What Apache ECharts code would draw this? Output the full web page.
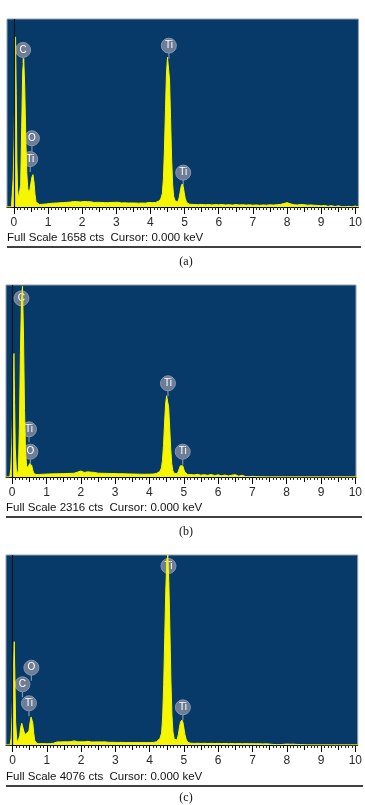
<!DOCTYPE html>
<html>
<head>
<meta charset="utf-8">
<script src="https://cdn.jsdelivr.net/npm/echarts@6/dist/echarts.min.js"></script>
<style>
html,body{margin:0;padding:0;background:#fff;overflow:hidden;}
#chart{width:365px;height:805px;}
</style>
</head>
<body>
<div id="chart"></div>
<script>
// ---- data (energy keV, counts) ----
const energyTicks = [0,1,2,3,4,5,6,7,8,9,10];
const panelNames = ['(a)','(b)','(c)'];
const fullScales = [1658, 2316, 4076];
const cursorKeV = 0.000;

const specA = [
[-0.2,0],[-0.07,0],[-0.05,100],[-0.02,250],[0.01,600],[0.03,1100],[0.05,1500],[0.07,1000],[0.09,400],[0.11,150],[0.14,70],[0.17,55],[0.20,200],[0.23,700],[0.26,1200],[0.29,1310],[0.32,1050],[0.35,600],[0.38,300],[0.41,160],[0.44,130],[0.47,150],[0.50,210],[0.53,265],[0.56,285],[0.59,220],[0.62,110],[0.65,45],[0.70,28],[0.75,22],[0.80,26],[0.85,24],[0.90,30],[0.95,27],[1.00,33],[1.05,31],[1.10,36],[1.15,34],[1.20,38],[1.25,35],[1.30,40],[1.35,37],[1.40,42],[1.45,39],[1.50,44],[1.55,41],[1.60,46],[1.65,43],[1.70,52],[1.75,48],[1.80,58],[1.85,47],[1.90,52],[1.95,45],[2.00,55],[2.05,48],[2.10,44],[2.15,47],[2.20,42],[2.25,46],[2.30,43],[2.35,40],[2.40,45],[2.45,41],[2.50,44],[2.55,40],[2.60,43],[2.65,39],[2.70,42],[2.75,38],[2.80,44],[2.85,40],[2.90,37],[2.95,41],[3.00,38],[3.05,42],[3.10,39],[3.15,36],[3.20,40],[3.25,37],[3.30,39],[3.35,35],[3.40,38],[3.45,36],[3.50,39],[3.55,35],[3.60,37],[3.65,34],[3.70,38],[3.75,35],[3.80,37],[3.85,34],[3.90,36],[3.95,40],[4.00,35],[4.05,38],[4.10,36],[4.15,40],[4.20,44],[4.25,52],[4.30,70],[4.35,120],[4.38,250],[4.41,500],[4.44,850],[4.47,1180],[4.50,1320],[4.53,1330],[4.56,1120],[4.59,780],[4.62,430],[4.65,200],[4.68,95],[4.72,55],[4.76,40],[4.80,45],[4.84,80],[4.87,130],[4.90,180],[4.93,203],[4.96,180],[4.99,125],[5.02,75],[5.06,40],[5.10,28],[5.15,24],[5.20,26],[5.30,22],[5.40,20],[5.50,23],[5.60,19],[5.70,22],[5.80,18],[5.90,21],[6.00,19],[6.10,22],[6.20,18],[6.30,20],[6.40,17],[6.50,21],[6.60,18],[6.70,20],[6.80,17],[6.90,19],[7.00,16],[7.10,18],[7.20,15],[7.30,18],[7.40,16],[7.50,19],[7.60,17],[7.70,20],[7.80,22],[7.90,30],[8.00,38],[8.05,36],[8.10,28],[8.20,20],[8.30,18],[8.40,22],[8.50,20],[8.60,16],[8.70,18],[8.80,15],[8.90,14],[9.00,10],[9.10,14],[9.20,6],[9.30,12],[9.40,4],[9.50,10],[9.60,3],[9.70,2],[9.80,6],[9.90,2],[10.00,8],[10.1,0]
];

const specB = [
[-0.2,0],[-0.07,0],[-0.04,100],[-0.01,400],[0.02,900],[0.05,1490],[0.07,900],[0.09,350],[0.12,100],[0.15,30],[0.18,80],[0.21,600],[0.24,1500],[0.27,2100],[0.30,2300],[0.33,1700],[0.36,800],[0.39,300],[0.42,140],[0.45,110],[0.48,130],[0.51,160],[0.54,170],[0.57,140],[0.60,80],[0.64,40],[0.70,30],[0.75,34],[0.80,31],[0.85,36],[0.90,33],[0.95,38],[1.00,35],[1.05,40],[1.10,37],[1.15,41],[1.20,38],[1.25,42],[1.30,39],[1.35,43],[1.40,40],[1.45,44],[1.50,41],[1.55,45],[1.60,42],[1.65,46],[1.70,44],[1.75,48],[1.80,45],[1.85,52],[1.90,58],[1.95,66],[2.00,72],[2.05,64],[2.10,55],[2.15,50],[2.20,62],[2.25,48],[2.30,58],[2.35,46],[2.40,55],[2.45,44],[2.50,46],[2.55,43],[2.60,45],[2.65,42],[2.70,44],[2.75,41],[2.80,43],[2.85,40],[2.90,42],[2.95,39],[3.00,41],[3.05,38],[3.10,40],[3.15,37],[3.20,39],[3.25,36],[3.30,38],[3.35,35],[3.40,37],[3.45,34],[3.50,36],[3.55,33],[3.60,35],[3.65,32],[3.70,34],[3.75,31],[3.80,33],[3.85,30],[3.90,33],[3.95,31],[4.00,34],[4.05,32],[4.10,35],[4.15,37],[4.20,42],[4.25,50],[4.30,65],[4.35,110],[4.38,200],[4.41,380],[4.44,640],[4.47,880],[4.50,980],[4.53,989],[4.56,840],[4.59,600],[4.62,340],[4.65,160],[4.68,80],[4.72,45],[4.76,35],[4.80,40],[4.84,65],[4.87,100],[4.90,135],[4.94,153],[4.97,135],[5.00,95],[5.03,60],[5.07,38],[5.12,28],[5.20,30],[5.30,25],[5.40,32],[5.50,22],[5.60,28],[5.70,20],[5.80,30],[5.90,18],[6.00,26],[6.10,15],[6.20,24],[6.30,12],[6.40,22],[6.50,28],[6.60,10],[6.70,20],[6.80,6],[6.90,4],[7.00,8],[7.05,30],[7.10,4],[7.20,2],[7.50,1],[8.00,1],[8.50,1],[9.00,1],[9.50,1],[10.00,1],[10.1,0]
];

const specC = [
[-0.2,0],[-0.07,0],[-0.04,150],[-0.01,700],[0.02,1500],[0.05,2216],[0.07,1400],[0.09,500],[0.12,150],[0.15,40],[0.18,60],[0.21,200],[0.24,380],[0.27,465],[0.30,430],[0.33,300],[0.36,220],[0.39,214],[0.42,260],[0.45,285],[0.48,300],[0.51,470],[0.54,600],[0.56,629],[0.59,480],[0.62,250],[0.65,90],[0.68,50],[0.72,30],[0.80,28],[0.90,30],[1.00,27],[1.10,29],[1.20,40],[1.25,62],[1.30,66],[1.35,63],[1.40,67],[1.45,64],[1.50,68],[1.55,65],[1.60,69],[1.65,66],[1.70,72],[1.75,82],[1.80,88],[1.85,80],[1.90,70],[1.95,75],[2.00,68],[2.05,80],[2.10,70],[2.15,66],[2.20,78],[2.25,68],[2.30,65],[2.35,76],[2.40,66],[2.45,64],[2.50,67],[2.55,78],[2.60,66],[2.65,64],[2.70,67],[2.75,63],[2.80,58],[2.85,55],[2.90,57],[2.95,54],[3.00,56],[3.05,53],[3.10,55],[3.15,52],[3.20,55],[3.25,52],[3.30,54],[3.35,51],[3.40,53],[3.45,50],[3.50,53],[3.55,50],[3.60,52],[3.65,49],[3.70,52],[3.75,49],[3.80,51],[3.85,48],[3.90,51],[3.95,48],[4.00,52],[4.05,50],[4.10,55],[4.15,60],[4.20,70],[4.25,90],[4.30,140],[4.35,260],[4.38,600],[4.41,1300],[4.44,2300],[4.47,3300],[4.50,3950],[4.53,4076],[4.56,3500],[4.59,2500],[4.62,1400],[4.65,650],[4.68,280],[4.72,120],[4.76,80],[4.80,110],[4.84,230],[4.87,380],[4.90,490],[4.94,536],[4.97,490],[5.00,360],[5.03,220],[5.07,110],[5.12,55],[5.20,38],[5.30,34],[5.40,37],[5.50,33],[5.60,36],[5.70,32],[5.80,35],[5.90,31],[6.00,34],[6.10,30],[6.20,33],[6.30,29],[6.40,32],[6.50,28],[6.60,31],[6.70,27],[6.80,30],[6.90,26],[7.00,29],[7.10,25],[7.20,27],[7.30,23],[7.40,25],[7.50,20],[7.60,12],[7.70,8],[7.80,6],[7.90,14],[8.00,20],[8.10,16],[8.20,18],[8.30,12],[8.40,10],[8.50,4],[8.60,2],[9.00,1],[9.50,1],[10.00,1],[10.1,0]
];

// element labels: [keV, counts, text]
const labelsA = [[0.27,1385,'C'],[4.54,1423,'Ti'],[0.53,606,'O'],[0.48,423,'Ti'],[4.96,303,'Ti']];
const labelsB = [[0.27,2155,'C'],[4.54,1130,'Ti'],[0.49,575,'Ti'],[0.53,305,'O'],[4.97,305,'Ti']];
const labelsC = [[4.55,3840,'Ti'],[0.55,1658,'O'],[0.29,1302,'C'],[0.48,894,'Ti'],[4.97,808,'Ti']];

// ---- layout ----
const layout = [
  {left:7, top:19, width:354, height:188, min:-0.20, max:10.09, textY:239, lineY:247, capY:262, lineL:7, lineR:361},
  {left:6, top:285, width:356, height:192, min:-0.18, max:10.02, textY:509, lineY:517, capY:532, lineL:6, lineR:362},
  {left:6, top:555, width:357, height:190, min:-0.19, max:10.07, textY:778, lineY:786, capY:798, lineL:6, lineR:363}
];
const spectra = [specA, specB, specC];
const labelSets = [labelsA, labelsB, labelsC];

const minorTicks = [];
for (let i = 0; i < energyTicks.length - 1; i++) {
  for (let k = 1; k < 10; k++) if (k !== 5) minorTicks.push(+(energyTicks[i] + k/10).toFixed(2));
}
const midTicks = energyTicks.slice(0,-1).map(v => v + 0.5);

const BG = '#073a69';
const YEL = '#f6f600';

const grids = [], xAxes = [], yAxes = [], series = [], graphics = [];
layout.forEach((L, i) => {
  grids.push({left:L.left, top:L.top, width:L.width, height:L.height, show:true,
    backgroundColor:BG, borderColor:'#93a0ae', borderWidth:1, containLabel:false});
  const base = {gridIndex:i, type:'value', position:'bottom', offset:0, min:L.min, max:L.max, splitLine:{show:false}};
  // major ticks + labels
  xAxes.push(Object.assign({}, base, {
    axisLine:{show:true, onZero:false, lineStyle:{color:'#000', width:1}},
    axisTick:{show:true, length:7, lineStyle:{color:'#000'}, customValues: energyTicks},
    axisLabel:{show:true, customValues: energyTicks, color:'#2a2a2a', fontSize:12,
      fontFamily:'Liberation Sans, Arial, sans-serif', margin:10, hideOverlap:false,
      showMinLabel:true, showMaxLabel:true}
  }));
  // mid ticks
  xAxes.push(Object.assign({}, base, {
    axisLine:{show:false, onZero:false}, axisLabel:{show:false},
    axisTick:{show:true, length:5, lineStyle:{color:'#000'}, customValues: midTicks}
  }));
  // minor ticks
  xAxes.push(Object.assign({}, base, {
    axisLine:{show:false, onZero:false}, axisLabel:{show:false},
    axisTick:{show:true, length:3, lineStyle:{color:'#222'}, customValues: minorTicks}
  }));
  yAxes.push({gridIndex:i, type:'value', min:0, max:fullScales[i], show:false});

  series.push({
    type:'line', xAxisIndex:i*3, yAxisIndex:i, data:spectra[i], showSymbol:false, smooth:false,
    lineStyle:{color:YEL, width:1}, areaStyle:{color:YEL, opacity:1}, silent:true, animation:false,
    clip:true,
    markLine:{silent:true, symbol:'none', label:{show:false}, animation:false,
      lineStyle:{color:'#151515', width:1.2, type:'solid'}, data:[{xAxis:cursorKeV}]}
  });
  series.push({
    type:'custom', xAxisIndex:i*3, yAxisIndex:i, data:labelSets[i], animation:false, silent:true,
    renderItem:function(params, api){
      const p = api.coord([api.value(0), api.value(1)]);
      const txt = labelSets[i][params.dataIndex][2];
      return {type:'group', children:[
        {type:'line', shape:{x1:p[0], y1:p[1]+7, x2:p[0], y2:p[1]+13}, style:{stroke:'#8493a8', lineWidth:1.2}},
        {type:'circle', shape:{cx:p[0], cy:p[1], r:7.5}, style:{fill:'#6d7d96', stroke:'#8696ac', lineWidth:1}},
        {type:'text', x:p[0], y:p[1], style:{text:txt, fill:'#ffffff', fontSize:10,
          fontFamily:'Liberation Sans, Arial, sans-serif', align:'center', verticalAlign:'middle'}}
      ]};
    }
  });

  graphics.push({type:'text', left:L.left, top:L.textY-7, style:{
    text:'Full Scale ' + fullScales[i] + ' cts  Cursor: ' + cursorKeV.toFixed(3) + ' keV',
    fill:'#111', fontSize:11.5, fontFamily:'Liberation Sans, Arial, sans-serif'}});
  graphics.push({type:'line', shape:{x1:L.lineL, y1:L.lineY, x2:L.lineR, y2:L.lineY},
    style:{stroke:'#000', lineWidth:1.5}});
  graphics.push({type:'text', x:186, y:L.capY, style:{text:panelNames[i], fill:'#111', fontSize:12,
    fontFamily:'Liberation Serif, Times New Roman, serif', align:'center', verticalAlign:'middle'}});
});

const chart = echarts.init(document.getElementById('chart'), null, {renderer:'canvas'});
chart.setOption({
  animation:false,
  backgroundColor:'#ffffff',
  grid:grids, xAxis:xAxes, yAxis:yAxes, series:series, graphic:graphics
});
</script>
</body>
</html>
